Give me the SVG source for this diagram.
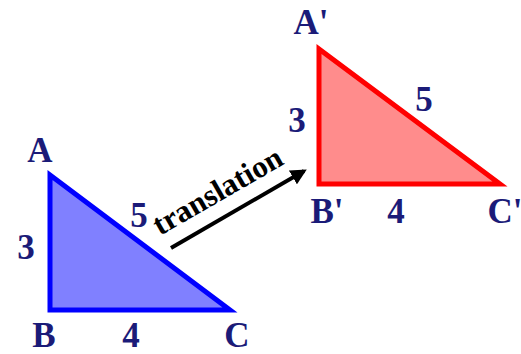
<svg xmlns="http://www.w3.org/2000/svg" width="521" height="354" viewBox="0 0 521 354">
<defs>
<style>
text{font-family:"Liberation Serif","Times New Roman",Times,serif;font-weight:700}
.lbl{fill:#1b1b78;font-size:35px;text-anchor:middle}
.tri{stroke-width:5;stroke-linejoin:miter}
</style>
<marker id="ah" viewBox="0 0 10 10" refX="8" refY="5" markerWidth="4" markerHeight="4" orient="auto" markerUnits="strokeWidth">
<path d="M0,0 L10,5 L0,10 Z" fill="#000"/>
</marker>
</defs>
<rect width="521" height="354" fill="#fff"/>
<g id="original">
<polygon class="tri" points="50,175 50,310 230,310" fill="#8080ff" stroke="#0000ff"/>
<text class="lbl" x="40" y="162">A</text>
<text class="lbl" x="44" y="347">B</text>
<text class="lbl" x="237" y="347">C</text>
<text class="lbl" x="26" y="259">3</text>
<text class="lbl" x="131" y="347">4</text>
<text class="lbl" x="139" y="227">5</text>
</g>
<g id="image">
<polygon class="tri" points="319,49 319,184 500,184" fill="#ff8c8c" stroke="#ff0000"/>
<text class="lbl" x="311" y="34">A'</text>
<text class="lbl" x="327" y="223">B'</text>
<text class="lbl" x="505" y="223">C'</text>
<text class="lbl" x="297" y="132">3</text>
<text class="lbl" x="396" y="223">4</text>
<text class="lbl" x="424" y="111">5</text>
</g>
<g id="connectors">
<line x1="171" y1="248" x2="304" y2="171" stroke="#000" stroke-width="4" marker-end="url(#ah)"/>
<text x="0" y="0" transform="translate(160,236) rotate(-30)" font-size="31" fill="#000">translation</text>
</g>
</svg>
